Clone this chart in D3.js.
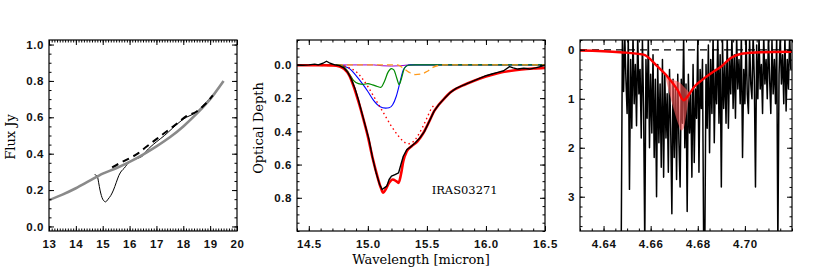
<!DOCTYPE html>
<html>
<head>
<meta charset="utf-8">
<script src="https://cdn.jsdelivr.net/npm/d3@7"></script>
<style>
  body { margin: 0; background: #fff; }
  .axis text { font-family: "Liberation Sans", Arial, sans-serif; font-size: 11.5px; font-weight: bold; letter-spacing: 0.6px; fill: #111; }
  .axis line { stroke: #000; stroke-width: 1; }
  .axis path { display: none; }
  .title { font-family: "DejaVu Serif", serif; font-size: 13px; fill: #000; }
  .label { font-family: "DejaVu Serif", serif; font-size: 11.5px; fill: #000; }
</style>
</head>
<body>
<div id="chart"></div>
<script>
// ---- left panel: flux spectrum
var fluxContWave = [13.0, 13.5, 14.0, 14.5, 15.0, 15.5, 16.0, 16.5, 17.0, 17.5, 18.0, 18.5, 19.0, 19.5];
var fluxCont     = [0.145, 0.175, 0.21, 0.25, 0.29, 0.32, 0.355, 0.395, 0.44, 0.49, 0.55, 0.62, 0.70, 0.80];
var fluxDashWave = [15.35, 15.6, 16.0, 16.3, 16.6, 17.0, 17.4, 17.8, 18.1, 18.5, 18.8, 19.1];
var fluxDash     = [0.325, 0.345, 0.375, 0.40, 0.435, 0.48, 0.525, 0.57, 0.605, 0.632, 0.67, 0.72];
var fluxObsWave  = [14.7, 14.8, 14.85, 14.9, 14.95, 15.0, 15.05, 15.1, 15.15, 15.2, 15.3, 15.4, 15.5, 15.6, 15.7, 15.8, 15.9, 16.0, 16.2, 16.4, 16.5, 16.6, 16.8, 17.0, 17.3, 17.6, 18.0, 18.5, 19.0, 19.2];
var fluxObs      = [0.285, 0.275, 0.24, 0.20, 0.17, 0.15, 0.14, 0.135, 0.14, 0.15, 0.17, 0.20, 0.24, 0.28, 0.305, 0.32, 0.34, 0.355, 0.37, 0.38, 0.39, 0.41, 0.44, 0.465, 0.50, 0.54, 0.59, 0.63, 0.705, 0.73];

// ---- middle panel: optical depth of the 15 micron band
var obsWave = [14.40, 14.45, 14.50, 14.55, 14.58, 14.62, 14.65, 14.68, 14.72, 14.76, 14.80, 14.83, 14.86, 14.89, 14.92, 14.95, 14.98, 15.01, 15.04, 15.07, 15.10, 15.12, 15.14, 15.16, 15.18, 15.20, 15.23, 15.26, 15.28, 15.30, 15.33, 15.36, 15.40, 15.44, 15.48, 15.52, 15.56, 15.60, 15.65, 15.70, 15.75, 15.80, 15.85, 15.90, 15.95, 16.00, 16.05, 16.10, 16.15, 16.20, 16.23, 16.27, 16.32, 16.37, 16.42, 16.46, 16.50];
var obsTau  = [0.000, 0.002, 0.000, -0.005, 0.000, -0.010, -0.022, -0.010, 0.000, 0.004, 0.020, 0.045, 0.085, 0.140, 0.210, 0.290, 0.370, 0.450, 0.560, 0.650, 0.720, 0.750, 0.740, 0.730, 0.690, 0.670, 0.660, 0.650, 0.600, 0.550, 0.510, 0.495, 0.470, 0.440, 0.400, 0.340, 0.280, 0.240, 0.200, 0.165, 0.140, 0.125, 0.110, 0.095, 0.080, 0.065, 0.055, 0.045, 0.035, 0.010, 0.018, 0.025, 0.020, 0.025, 0.018, 0.010, 0.002];
var fitWave = [14.40, 14.50, 14.60, 14.70, 14.76, 14.80, 14.84, 14.88, 14.92, 14.96, 15.00, 15.04, 15.08, 15.11, 15.13, 15.15, 15.18, 15.21, 15.24, 15.26, 15.28, 15.30, 15.33, 15.37, 15.42, 15.47, 15.52, 15.56, 15.60, 15.65, 15.70, 15.80, 15.90, 16.00, 16.10, 16.20, 16.30, 16.40, 16.50];
var fitTau  = [0.002, 0.002, 0.002, 0.004, 0.010, 0.025, 0.060, 0.130, 0.220, 0.320, 0.430, 0.560, 0.670, 0.740, 0.770, 0.750, 0.710, 0.690, 0.700, 0.710, 0.660, 0.580, 0.520, 0.490, 0.460, 0.410, 0.340, 0.280, 0.240, 0.200, 0.165, 0.125, 0.095, 0.070, 0.050, 0.037, 0.028, 0.022, 0.018];
var broadWave = [14.80, 14.85, 14.90, 14.95, 15.00, 15.05, 15.10, 15.15, 15.20, 15.25, 15.30, 15.34, 15.38, 15.42, 15.46, 15.50, 15.54, 15.57];
var broadTau  = [0.005, 0.020, 0.040, 0.080, 0.130, 0.190, 0.250, 0.310, 0.370, 0.420, 0.460, 0.475, 0.465, 0.430, 0.380, 0.320, 0.260, 0.240];
var blueWave = [14.40, 14.75, 14.80, 14.85, 14.90, 14.95, 15.00, 15.05, 15.10, 15.15, 15.18, 15.21, 15.24, 15.27, 15.30, 15.33, 15.36, 16.50];
var blueTau  = [0, 0, 0.008, 0.025, 0.065, 0.110, 0.160, 0.215, 0.250, 0.260, 0.258, 0.240, 0.190, 0.110, 0.030, 0.005, 0, 0];
var greenWave = [14.40, 14.76, 14.80, 14.84, 14.88, 14.92, 14.96, 15.00, 15.04, 15.08, 15.11, 15.14, 15.17, 15.20, 15.22, 15.245, 15.265, 15.285, 15.31, 15.34, 15.40, 16.50];
var greenTau  = [0, 0, 0.012, 0.050, 0.095, 0.113, 0.117, 0.113, 0.120, 0.130, 0.135, 0.100, 0.045, 0.022, 0.030, 0.080, 0.118, 0.080, 0.020, 0.002, 0, 0];
var orangeWave = [14.40, 14.55, 14.62, 14.70, 14.80, 15.25, 15.30, 15.35, 15.40, 15.45, 15.50, 15.55, 15.60, 15.65, 16.50];
var orangeTau  = [0, 0, 0.004, 0.004, 0, 0, 0.020, 0.045, 0.058, 0.055, 0.040, 0.015, 0.003, 0, 0];
var purpleWave = [14.40, 15.05, 15.12, 15.20, 15.28, 15.35, 16.50];
var purpleTau  = [0, 0, 0.005, 0.007, 0.005, 0, 0];
var sourceName = "IRAS03271";

// ---- right panel: CO ice band, noisy high resolution spectrum
var coStart = 4.6475, coStep = 0.0005;
var coTau = [
  4.0, -0.3, 0.85, -0.3, 0.6,
  1.3, -0.25, 2.85, 0.2, 1.6,
  -0.3, 1.1, 0.3, 1.55, -0.3,
  0.9, 0.4, 1.8, -0.2, 1.2,
  4.0, 0.2, 1.4, -0.3, 2.0,
  0.5, 1.7, 0.1, 2.2, 0.6,
  3.0, 0.3, 1.9, 0.7, 2.4,
  0.2, 2.6, 0.5, 1.8, 0.9,
  2.5, 0.4, 1.6, 3.35, 0.6,
  2.2, 0.8, 2.65, 0.5, 1.9,
  2.8, 0.6, 1.5, -0.3, 2.0,
  0.7, 3.3, 0.5, 1.7, 0.9,
  2.6, 0.3, 2.3, 0.8, 1.4,
  -0.2, 2.5, 0.4, 1.2, 0.2,
  4.0, 4.0, 0.3, 1.6, -0.1,
  2.1, 0.2, 1.3, -0.3, 1.9,
  0.4, 1.1, -0.3, 1.5, 0.1,
  2.8, -0.2, 1.2, 0.3, 1.5,
  -0.3, 1.6, 0.2, 0.9, -0.3,
  1.2, 0.1, 1.4, -0.3, 0.8,
  0.2, 1.1, -0.3, 2.2, 0.4,
  1.1, -0.3, 0.9, 1.3, -0.2,
  0.7, 1.0, -0.3, 0.6, 2.8,
  -0.1, 1.0, -0.3, 0.8, 0.3,
  1.3, -0.3, 0.7, 0.2, 1.0,
  -0.3, 0.6, 1.3, -0.2, 0.9,
  0.2, 1.1, -0.3, 4.0, 0.5,
  -0.3, 0.7, 0.1, 1.1, -0.3,
  1.25, 0.2, 0.8, -0.3, 0.4
];
var coFitWave = [4.630, 4.647, 4.657, 4.6629, 4.667, 4.6714, 4.674, 4.6757, 4.6786, 4.682, 4.6857, 4.690, 4.694, 4.6986, 4.707, 4.720];
var coFitTau  = [0.014, 0.05, 0.10, 0.34, 0.54, 0.82, 1.03, 0.95, 0.75, 0.61, 0.48, 0.34, 0.17, 0.08, 0.05, 0.04];
var bandWave = [4.6665, 4.668, 4.670, 4.672, 4.673, 4.674, 4.675, 4.676, 4.677];
var bandTop  = [0.55, 0.58, 0.62, 0.66, 0.70, 0.75, 0.80, 0.85, 0.90];
var bandBot  = [0.60, 0.90, 1.25, 1.55, 1.65, 1.60, 1.35, 1.05, 0.90];

var svg = d3.select("#chart").append("svg")
    .attr("width", 817)
    .attr("height", 272);

var top0 = 40, bottom0 = 231;

function zip(xs, ys) {
  return xs.map(function(d, i) { return [d, ys[i]]; });
}

// box with inward ticks on all four sides, labels only bottom and left
function panel(id, left, right, xDom, yDom, xMajor, xMinor, yMajor, yMinor, xFmt, yFmt) {
  var w = right - left, h = bottom0 - top0;
  var x = d3.scaleLinear().domain(xDom).range([0, w]);
  var y = d3.scaleLinear().domain(yDom).range([h, 0]);
  var g = svg.append("g").attr("transform", "translate(" + left + "," + top0 + ")");

  g.append("clipPath").attr("id", id).append("rect").attr("width", w).attr("height", h);
  var plot = g.append("g").attr("clip-path", "url(#" + id + ")");

  var sides = [
    {ax: d3.axisBottom, t: "translate(0," + h + ")", s: x, maj: xMajor, min: xMinor, f: xFmt, pad: 9},
    {ax: d3.axisTop, t: "translate(0,0)", s: x, maj: xMajor, min: xMinor, f: null, pad: 5},
    {ax: d3.axisLeft, t: "translate(0,0)", s: y, maj: yMajor, min: yMinor, f: yFmt, pad: 5},
    {ax: d3.axisRight, t: "translate(" + w + ",0)", s: y, maj: yMajor, min: yMinor, f: null, pad: 5}
  ];
  sides.forEach(function(sd) {
    g.append("g").attr("class", "axis").attr("transform", sd.t)
      .call(sd.ax(sd.s).tickValues(sd.min).tickSize(-2.5).tickFormat(""));
    g.append("g").attr("class", "axis").attr("transform", sd.t)
      .call(sd.ax(sd.s).tickValues(sd.maj).tickSize(-5).tickPadding(sd.pad)
        .tickFormat(sd.f ? sd.f : function() { return ""; }));
  });

  g.append("rect").attr("width", w).attr("height", h)
    .attr("fill", "none").attr("stroke", "#000").attr("stroke-width", 1.2);

  return {g: g, plot: plot, x: x, y: y, w: w, h: h};
}

function ticks(a, b, step) {
  var n = Math.round((b - a) / step);
  return d3.range(n + 1).map(function(i) { return +(a + i * step).toFixed(4); });
}

function addLine(p, data, color, width, dash, curve) {
  var line = d3.line()
      .x(function(d) { return p.x(d[0]); })
      .y(function(d) { return p.y(d[1]); })
      .curve(curve || d3.curveMonotoneX);
  p.plot.append("path")
      .datum(data)
      .attr("d", line)
      .attr("fill", "none")
      .attr("stroke", color)
      .attr("stroke-width", width)
      .attr("stroke-dasharray", dash || null)
      .attr("stroke-linejoin", "round");
}

// ---- left
var pL = panel("clipL", 49, 237, [13, 20], [-0.025, 1.025],
    ticks(13, 20, 1), ticks(13, 20, 0.1), ticks(0, 1, 0.2), ticks(0, 1, 0.05),
    d3.format("d"), d3.format(".1f"));
addLine(pL, zip(fluxObsWave, fluxObs), "#000", 1);
addLine(pL, zip(fluxContWave, fluxCont), "#8a8a8a", 2.6);
addLine(pL, zip(fluxDashWave, fluxDash), "#000", 2, "7,5");

svg.append("text").attr("class", "title")
    .attr("transform", "translate(15,137) rotate(-90)")
    .attr("text-anchor", "middle").text("Flux Jy");

// ---- middle
var pM = panel("clipM", 297, 545, [14.4, 16.5], [1.0, -0.15],
    ticks(14.5, 16.5, 0.5), ticks(14.4, 16.5, 0.1), ticks(0, 0.8, 0.2), ticks(-0.15, 1.0, 0.05),
    d3.format(".1f"), d3.format(".1f"));
addLine(pM, zip(purpleWave, purpleTau), "#9a00d0", 1);
addLine(pM, zip(blueWave, blueTau), "#0000ff", 1.1);
addLine(pM, zip(greenWave, greenTau), "#008a00", 1.2);
addLine(pM, zip(orangeWave, orangeTau), "#ff9a1a", 1.3, "6,4");
addLine(pM, zip(broadWave, broadTau), "#ff0000", 1.4, "1.5,3");
addLine(pM, zip(fitWave, fitTau), "#ff0000", 2.6);
addLine(pM, zip(obsWave, obsTau), "#000", 1.4, null, d3.curveLinear);

pM.g.append("text").attr("class", "label")
    .attr("x", pM.x(15.54)).attr("y", pM.y(0.8) - 4)
    .text(sourceName);

svg.append("text").attr("class", "title")
    .attr("transform", "translate(263,128) rotate(-90)")
    .attr("text-anchor", "middle").text("Optical Depth");
svg.append("text").attr("class", "title")
    .attr("x", 421).attr("y", 264)
    .attr("text-anchor", "middle").text("Wavelength [micron]");

// ---- right
var pR = panel("clipR", 580, 792, [4.63, 4.72], [3.7, -0.2],
    ticks(4.64, 4.70, 0.02), ticks(4.63, 4.72, 0.005), ticks(0, 3, 1), ticks(-0.2, 3.6, 0.2),
    d3.format(".2f"), d3.format("d"));

pR.plot.append("line")
    .attr("x1", 0).attr("x2", pR.w)
    .attr("y1", pR.y(0)).attr("y2", pR.y(0))
    .attr("stroke", "#000").attr("stroke-width", 1.2).attr("stroke-dasharray", "7,5");

var coData = coTau.map(function(v, i) { return [coStart + i * coStep, v]; });
addLine(pR, coData, "#000", 1.5, null, d3.curveLinear);

var band = d3.area()
    .x(function(d, i) { return pR.x(bandWave[i]); })
    .y0(function(d, i) { return pR.y(bandBot[i]); })
    .y1(function(d, i) { return pR.y(bandTop[i]); })
    .curve(d3.curveMonotoneX);
pR.plot.append("path").datum(bandWave).attr("d", band)
    .attr("fill", "#ff5a5a").attr("fill-opacity", 0.6);

addLine(pR, zip(coFitWave, coFitTau), "#ff0000", 2.4);
</script>
</body>
</html>
